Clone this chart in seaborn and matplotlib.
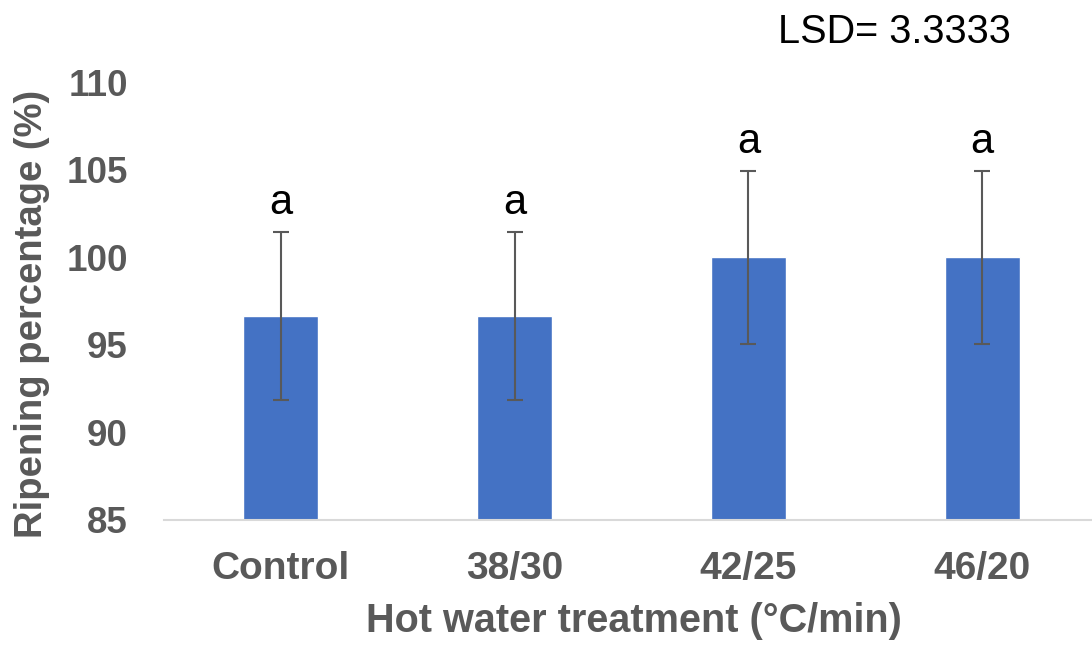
import matplotlib
matplotlib.use("Agg")
import matplotlib.pyplot as plt
import seaborn as sns
import pandas as pd

# Ripening percentage after hot water treatment
treatments = ["Control", "38/30", "42/25", "46/20"]
ripening = [96.67, 96.67, 100.0, 100.0]
errors = [4.8, 4.8, 4.95, 4.95]
letters = ["a", "a", "a", "a"]
lsd_text = "LSD= 3.3333"

sns.set_theme(style="white")
plt.rcParams["font.family"] = ["Liberation Sans", "DejaVu Sans"]

GRAY = "#595959"
BLUE = "#4472C4"

df = pd.DataFrame({"treatment": treatments, "ripening": ripening})

fig = plt.figure(figsize=(10.92, 6.47), dpi=100)
W, H = 1092, 647
ax = fig.add_axes([164 / W, (H - 520) / H, 935 / W, (520 - 82.25) / H])

sns.barplot(data=df, x="treatment", y="ripening", color=BLUE, saturation=1,
            width=0.32, ax=ax, errorbar=None)

ax.errorbar(range(len(treatments)), ripening, yerr=errors, fmt="none",
            ecolor=GRAY, elinewidth=1.5, capsize=6, capthick=1.5)

for i, (val, err, lab) in enumerate(zip(ripening, errors, letters)):
    ax.annotate(lab, xy=(i, val + err), xytext=(0, 13), textcoords="offset points",
                ha="center", va="baseline", fontsize=30, color="black")

ax.set_ylim(85, 110)
ax.set_xlim(-0.5, 3.5)
ax.set_yticks([85, 90, 95, 100, 105, 110])
for s in ["top", "right", "left"]:
    ax.spines[s].set_visible(False)
ax.spines["bottom"].set_color("#d9d9d9")
ax.spines["bottom"].set_linewidth(1.5)
ax.tick_params(axis="both", length=0)
ax.tick_params(axis="y", pad=26, labelsize=26.5, labelcolor=GRAY)
ax.tick_params(axis="x", pad=22, labelsize=28, labelcolor=GRAY)
for t in ax.get_xticklabels() + ax.get_yticklabels():
    t.set_fontweight("bold")
ax.set_xlabel("")
ax.set_ylabel("")

fig.text(634 / W, (H - 632) / H, "Hot water treatment (°C/min)", ha="center",
         va="baseline", fontsize=28.5, fontweight="bold", color=GRAY)
fig.text(32 / W, (H - 314) / H, "Ripening percentage (%)", ha="center",
         va="center", rotation=90, fontsize=27.5, fontweight="bold", color=GRAY)
fig.text(778 / W, (H - 43) / H, lsd_text, ha="left", va="baseline",
         fontsize=28.5, color="black")

fig.savefig("out.png", dpi=100)
